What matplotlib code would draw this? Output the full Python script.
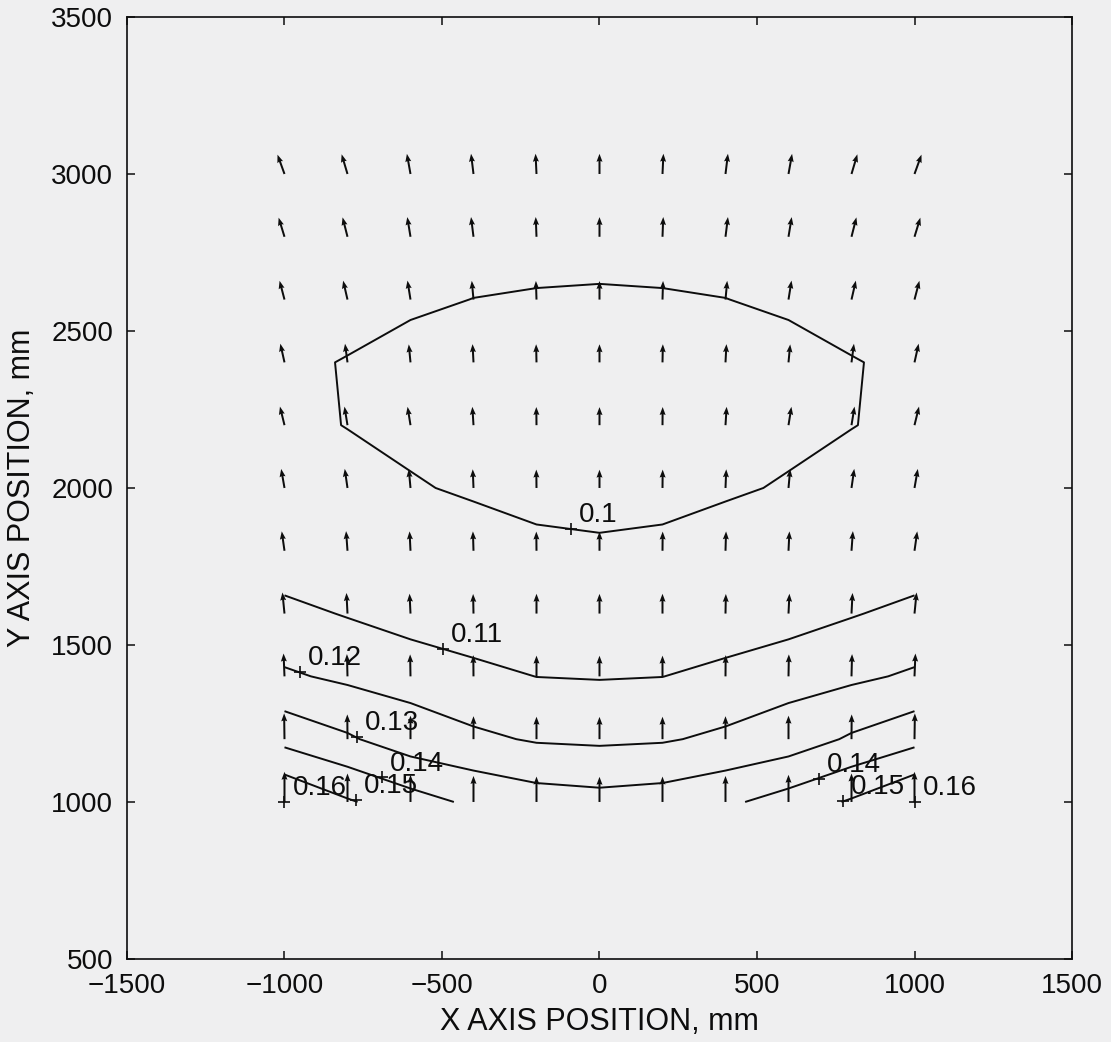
import numpy as np
import matplotlib.pyplot as plt

plt.rcParams['font.family'] = ['Liberation Sans', 'DejaVu Sans']

# grid of measurement points, mm
x_pos = [-1000, -800, -600, -400, -200, 0, 200, 400, 600, 800, 1000]
y_pos = [1000, 1200, 1400, 1600, 1800, 2000, 2200, 2400, 2600, 2800, 3000]

# field magnitude, left half of the grid (x = -1000 .. 0), one row per y
mag_left = np.array([
    [0.1601, 0.1511, 0.1442, 0.1381, 0.1347, 0.1334],    # 1000
    [0.1370, 0.1313, 0.1246, 0.1219, 0.1191, 0.1184],    # 1200
    [0.1213, 0.1182, 0.1166, 0.1125, 0.10991, 0.1095],   # 1400
    [0.11245, 0.1094, 0.1054, 0.1040, 0.1050, 0.1045],   # 1600
    [0.1040, 0.1045, 0.1030, 0.1028, 0.1018, 0.1012],    # 1800
    [0.1025, 0.10246, 0.10051, 0.09923, 0.0975, 0.0970], # 2000
    [0.1015, 0.09983, 0.09859, 0.0975, 0.0963, 0.0958],  # 2200
    [0.1015, 0.09963, 0.09585, 0.0968, 0.0962, 0.0960],  # 2400
    [0.1030, 0.1030, 0.1020, 0.09985, 0.0989, 0.0985],   # 2600
    [0.1060, 0.1062, 0.1058, 0.1055, 0.1049, 0.1045],    # 2800
    [0.1090, 0.1090, 0.1085, 0.1080, 0.1075, 0.1070],    # 3000
])

# horizontal component, left half (right half is mirrored)
u_left = np.array([
    [0.000, 0.000, 0.000, 0.000, 0.000, 0.0],   # 1000
    [-0.002, -0.001, 0.000, 0.000, 0.000, 0.0], # 1200
    [-0.005, -0.003, -0.002, -0.001, 0.000, 0.0],
    [-0.011, -0.0055, -0.005, -0.002, 0.000, 0.0],
    [-0.0145, -0.0075, -0.005, -0.003, -0.001, 0.0],
    [-0.0175, -0.0145, -0.009, -0.004, -0.001, 0.0],
    [-0.024, -0.016, -0.0155, -0.006, -0.001, 0.0],
    [-0.022, -0.013, -0.009, -0.005, -0.002, 0.0],
    [-0.026, -0.023, -0.016, -0.009, -0.003, 0.0],
    [-0.031, -0.026, -0.017, -0.013, -0.004, 0.0],
    [-0.037, -0.031, -0.019, -0.013, -0.005, 0.0],  # 3000
])

levels = [0.10, 0.11, 0.12, 0.13, 0.14, 0.15, 0.16]

# contour label positions (clabel style '+' markers)
label_x = [-90, -497, -951, -770, -690, 697, -773, 773, -1000, 1000]
label_y = [1870, 1487, 1414, 1207, 1078, 1072, 1006, 1003, 1000, 1000]
label_txt = ['0.1', '0.11', '0.12', '0.13', '0.14', '0.14', '0.15', '0.15', '0.16', '0.16']

# symmetric field: mirror the left half
mag = np.hstack([mag_left, mag_left[:, -2::-1]])
u = np.hstack([u_left, -u_left[:, -2::-1]])
v = np.sqrt(mag ** 2 - u ** 2)
X, Y = np.meshgrid(x_pos, y_pos)

ink = '#0d0d0d'
bg = '#efeff0'
fig = plt.figure(figsize=(11.11, 10.42), dpi=100, facecolor=bg)
ax = fig.add_axes([0.1143, 0.0797, 0.8506, 0.9040], facecolor=bg)

ax.quiver(X, Y, u, v, angles='xy', scale_units='xy', scale=1 / 600.0,
          units='dots', width=2.0, headwidth=3, headlength=4,
          headaxislength=3.6, color=ink, pivot='tail')

ax.contour(X, Y, mag, levels=levels, colors=ink, linewidths=1.4)

ax.plot(label_x, label_y, '+', color=ink, markersize=9, mew=1.2)
for lx, ly, t in zip(label_x, label_y, label_txt):
    ax.annotate(t, (lx, ly), xytext=(5.8, 5), textcoords='offset points',
                ha='left', va='baseline', fontsize=20, color=ink)

ax.set_xlim(-1500, 1500)
ax.set_ylim(500, 3500)
ax.set_xticks([-1500, -1000, -500, 0, 500, 1000, 1500])
ax.set_yticks([500, 1000, 1500, 2000, 2500, 3000, 3500])
ax.tick_params(direction='in', length=6, width=1.1, top=True, right=True,
               labelsize=20, pad=10, colors=ink)
for s in ax.spines.values():
    s.set_linewidth(1.2)
    s.set_color(ink)

ax.set_xlabel('X AXIS POSITION, mm', fontsize=22, labelpad=6, color=ink)
ax.set_ylabel('Y AXIS POSITION, mm', fontsize=22, labelpad=10, color=ink)

fig.savefig('out.png', dpi=100, facecolor=bg)
